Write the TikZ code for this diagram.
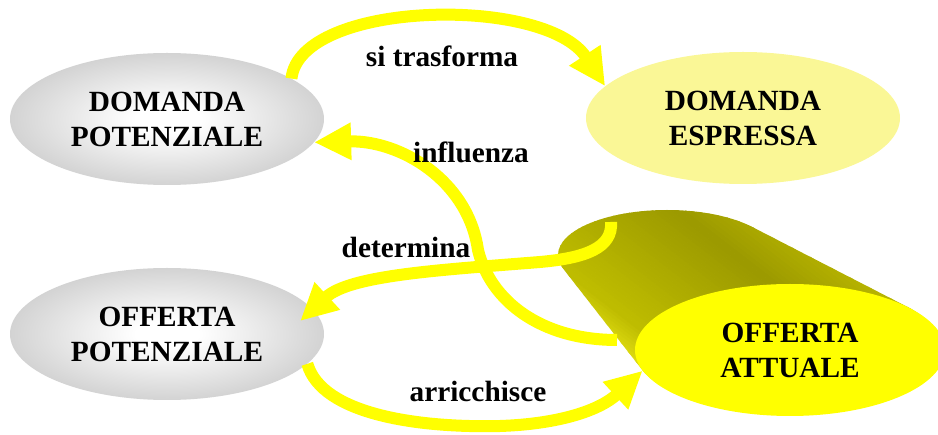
\documentclass[tikz,border=0pt]{standalone}
\usepackage{fontspec}
\setmainfont{Liberation Serif}
\usetikzlibrary{arrows.meta,shapes.geometric}

\definecolor{arrowyellow}{RGB}{255,255,0}
\definecolor{paleyellow}{RGB}{250,247,150}
\definecolor{grayedge}{RGB}{168,168,168}
\definecolor{graymid}{RGB}{200,200,200}
\definecolor{cyllight}{RGB}{228,225,20}
\definecolor{cylmid}{RGB}{190,188,0}
\definecolor{cyldark}{RGB}{156,154,0}
\definecolor{cylright}{RGB}{188,185,0}

\pgfdeclareradialshading{grayball}{\pgfpoint{0bp}{0bp}}{color(0bp)=(white); color(5bp)=(white); color(30bp)=(graymid); color(50bp)=(grayedge)}

\begin{document}
\begin{tikzpicture}[x=1pt, y=-1pt,
    blob/.style={ellipse, minimum width=314pt, minimum height=132pt, inner sep=0pt,
        align=center, font=\fontsize{29.3}{35}\selectfont\bfseries},
    flow/.style={draw=arrowyellow, line width=12pt, -{Triangle[length=37pt,width=35pt]}},
    tag/.style={anchor=base, font=\fontsize{29.3}{35}\selectfont\bfseries}]

    % the frame
    \useasboundingbox (0,0) rectangle (938,435);

    % demand
    \node[blob, shade, shading=grayball] (dp) at (167,119) {DOMANDA\\POTENZIALE};
    \node[blob, fill=paleyellow] (de) at (743,118) {DOMANDA\\ESPRESSA};

    % supply
    \node[blob, shade, shading=grayball] (op) at (167,334) {OFFERTA\\POTENZIALE};

    % the cylinder body, in strips along its axis
    \begin{scope}
        \clip foreach \t in {0,0.02,...,1} {
            ({667+123*\t},{255+95*\t}) ellipse [x radius={109+46*\t}, y radius={45+21*\t}]
        };
        \begin{scope}[shift={(728,302)}, rotate=52.3]
            \foreach \i [evaluate=\i as \p using int(100-\i*100/11)] in {0,...,11} {
                \fill[cyllight!\p!cylmid] ({-110+\i*3}, -300) rectangle ({-107+\i*3+0.6}, 300);
            }
            \foreach \i [evaluate=\i as \p using int(100-\i*100/28)] in {0,...,28} {
                \fill[cylmid!\p!cyldark] ({-74+\i*4}, -300) rectangle ({-70+\i*4+0.6}, 300);
            }
            \foreach \i [evaluate=\i as \p using int(100-\i*100/17)] in {0,...,17} {
                \fill[cyldark!\p!cylright] ({42+\i*4}, -300) rectangle ({46+\i*4+0.6}, 300);
            }
        \end{scope}
    \end{scope}
    \node[blob, minimum width=310pt, fill=arrowyellow] (oa) at (790,350) {OFFERTA\\ATTUALE};

    % free ends on the cylinder
    \coordinate (hook) at (611,222);
    \coordinate (side) at (617,340);

    % the arrows
    \draw[flow] (dp.18) .. controls (300,0) and (545,-5) .. (de.167);
    \draw[flow] (side) .. controls (540,340) and (490,300) .. (478,250)
        .. controls (468,180) and (400,140) .. (dp.351);
    \draw[flow] (hook) .. controls (613,248) and (585,258) .. (540,262)
        .. controls (440,270) and (350,275) .. ([xshift=-24pt,yshift=13pt]op.east);
    \draw[flow] (op.348) .. controls (322,415) and (420,428) .. (500,426)
        .. controls (560,424) and (600,410) .. (oa.188);

    % labels
    \node[tag] (trasf) at (442,67) {si trasforma};
    \node[tag] (infl) at (471,163) {influenza};
    \node[tag] (det) at (406,258) {determina};
    \node[tag] (arr) at (478,402) {arricchisce};
\end{tikzpicture}
\end{document}
